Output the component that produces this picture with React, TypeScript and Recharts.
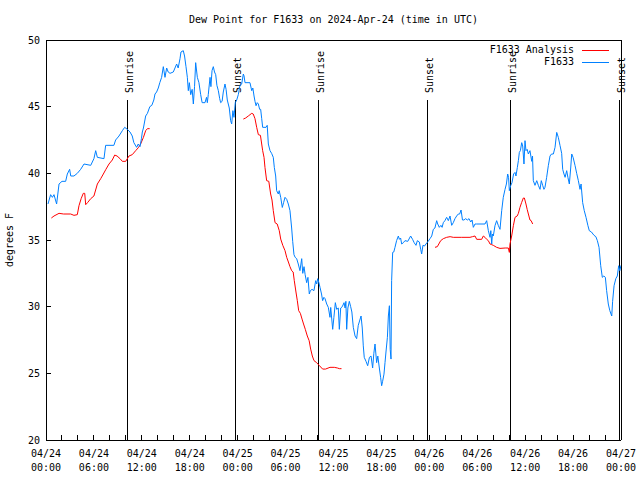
import React from 'react';
import { LineChart, Line, XAxis, YAxis, ReferenceLine } from 'recharts';

const FONT = '"DejaVu Sans Mono", monospace';
const BLUE = '#0080ff';
const RED = '#ff0000';

// x = hours after 04/24 00:00 UTC, y = dew point (F)
const f1633: [number, number][] = [
  [0.25, 37.7], [0.58, 38.4], [0.8, 38.2], [1.0, 38.4], [1.33, 37.7], [1.63, 39.2], [2.0, 39.4],
  [2.46, 39.4], [2.67, 39.95], [2.96, 40.3], [3.1, 39.8], [3.5, 39.8], [3.92, 40.0], [4.34, 40.3],
  [4.76, 40.7], [5.6, 40.6], [6.0, 41.1], [6.22, 41.7], [6.43, 41.2], [7.26, 41.1], [7.47, 42.1],
  [8.5, 42.1], [8.72, 42.5], [9.14, 42.8], [9.56, 43.2], [9.85, 43.45], [10.18, 43.3], [10.52, 43.1],
  [10.8, 42.8], [11.0, 42.3], [11.35, 41.95], [11.55, 42.2], [11.77, 42.0], [11.95, 42.6], [12.06, 43.1],
  [12.2, 43.4], [12.48, 44.3], [12.7, 44.5], [13.0, 45.0], [13.25, 45.1], [13.5, 45.5], [13.65, 45.95],
  [13.85, 46.1], [14.06, 46.4], [14.25, 46.8], [14.48, 47.2], [14.69, 48.0], [14.9, 47.2], [15.11, 47.9],
  [15.3, 47.6], [15.53, 47.5], [15.94, 47.6], [16.15, 47.9], [16.36, 48.2], [16.55, 47.9], [16.78, 48.6],
  [16.9, 49.1], [17.19, 49.2], [17.35, 48.8], [17.53, 48.0], [17.7, 47.2], [17.82, 46.2], [17.95, 46.8],
  [18.12, 45.9], [18.3, 46.3], [18.45, 45.2], [18.6, 46.5], [18.74, 48.3], [18.95, 47.2], [19.15, 46.8],
  [19.37, 45.9], [19.55, 45.3], [19.91, 45.3], [20.1, 45.7], [20.2, 45.3], [20.32, 45.9], [20.54, 47.2],
  [20.65, 46.5], [20.79, 47.7], [20.95, 48.0], [21.1, 47.6], [21.25, 47.4], [21.4, 46.6], [21.58, 46.2],
  [21.75, 45.6], [21.87, 45.3], [22.05, 45.4], [22.2, 46.1], [22.41, 46.7], [22.55, 46.3], [22.7, 45.5],
  [22.95, 44.9], [23.12, 43.95], [23.25, 43.7], [23.4, 44.7], [23.54, 44.2], [23.7, 45.3], [23.88, 45.5],
  [24.08, 45.9], [24.29, 46.6], [24.5, 46.7], [24.71, 47.45], [24.8, 47.3], [24.92, 46.8], [25.54, 46.8],
  [25.76, 46.2], [25.9, 46.4], [26.05, 45.8], [26.17, 45.4], [26.3, 45.07], [26.45, 45.3], [26.59, 45.2],
  [26.75, 44.8], [26.88, 44.8], [27.01, 44.1], [27.13, 43.45], [27.55, 43.45], [27.7, 43.6], [27.84, 42.2],
  [28.05, 41.7], [28.25, 41.5], [28.46, 41.2], [28.59, 40.44], [28.76, 39.8], [28.88, 38.7], [29.09, 38.45],
  [29.2, 38.7], [29.39, 38.2], [29.59, 37.44], [29.75, 37.8], [29.93, 38.2], [30.14, 38.05], [30.34, 37.7],
  [30.55, 37.2], [30.76, 35.9], [30.89, 34.9], [31.05, 33.9], [31.2, 33.7], [31.39, 33.6], [31.59, 33.2],
  [31.8, 32.7], [32.02, 33.6], [32.15, 32.5], [32.31, 33.0], [32.45, 32.4], [32.64, 31.8], [32.8, 32.2],
  [32.97, 30.95], [33.1, 31.2], [33.31, 31.3], [33.55, 31.2], [33.77, 31.95], [33.9, 31.7], [34.02, 32.1],
  [34.15, 31.85], [34.31, 31.45], [34.5, 30.95], [34.64, 30.45], [34.8, 30.7], [34.94, 30.6], [35.15, 30.2],
  [35.35, 29.95], [35.56, 29.2], [35.65, 29.94], [35.9, 28.3], [36.05, 29.2], [36.23, 30.3], [36.4, 29.8],
  [36.6, 29.9], [36.73, 28.3], [36.9, 29.9], [37.1, 30.0], [37.32, 30.3], [37.45, 29.9], [37.55, 30.4],
  [37.65, 28.3], [37.8, 29.9], [37.98, 30.4], [38.15, 30.0], [38.3, 29.6], [38.48, 28.45], [38.7, 27.8],
  [38.9, 27.6], [39.1, 28.6], [39.3, 29.0], [39.45, 29.3], [39.6, 28.4], [39.73, 27.06], [39.85, 26.2],
  [40.07, 25.9], [40.28, 25.57], [40.5, 26.2], [40.7, 26.3], [40.9, 25.4], [41.05, 26.5], [41.2, 27.2],
  [41.4, 25.8], [41.55, 26.3], [41.74, 25.4], [41.9, 24.7], [42.03, 24.07], [42.15, 24.4], [42.32, 24.94],
  [42.45, 25.8], [42.57, 26.6], [42.75, 27.7], [42.87, 29.3], [43.0, 30.07], [43.1, 26.8], [43.2, 26.07],
  [43.28, 31.95], [43.41, 34.07], [43.55, 34.1], [43.7, 34.45], [43.9, 34.95], [44.12, 35.3], [44.25, 35.05],
  [44.4, 35.15], [44.54, 34.7], [44.75, 34.8], [44.95, 34.95], [45.3, 34.9], [45.66, 35.3], [45.9, 35.05],
  [46.1, 34.8], [46.33, 34.6], [46.5, 34.95], [46.75, 34.85], [46.92, 34.3], [47.04, 33.95], [47.2, 34.6],
  [47.4, 34.55], [47.58, 34.7], [47.85, 34.9], [48.08, 35.1], [48.3, 35.3], [48.5, 35.8], [48.7, 35.9],
  [48.92, 36.45], [49.05, 36.2], [49.25, 35.95], [49.45, 36.1], [49.6, 35.95], [49.75, 36.3], [49.95, 36.45],
  [50.17, 36.7], [50.38, 36.45], [50.59, 36.8], [50.8, 36.1], [51.0, 36.3], [51.21, 36.6], [51.42, 36.8],
  [51.63, 36.95], [51.8, 36.95], [51.97, 37.25], [52.15, 36.5], [52.34, 36.5], [52.55, 36.6], [52.76, 36.5],
  [52.97, 36.6], [53.18, 36.35], [53.35, 36.5], [53.51, 35.95], [53.72, 36.2], [53.93, 36.2], [54.97, 36.2],
  [55.18, 36.45], [55.39, 35.7], [55.6, 35.2], [55.7, 35.7], [55.81, 34.7], [55.9, 35.45], [56.01, 35.3],
  [56.22, 36.07], [56.43, 36.45], [56.63, 36.1], [56.85, 35.8], [57.06, 37.2], [57.26, 38.2], [57.48, 38.8],
  [57.65, 39.2], [57.81, 39.95], [57.92, 39.7], [58.02, 38.7], [58.2, 39.1], [58.35, 39.3], [58.55, 39.95],
  [58.73, 40.07], [58.85, 39.8], [59.02, 40.44], [59.15, 40.95], [59.27, 41.57], [59.4, 41.7], [59.57, 42.3],
  [59.69, 42.05], [59.85, 40.7], [59.98, 42.45], [60.1, 41.7], [60.25, 41.8], [60.4, 41.45], [60.6, 41.7],
  [60.82, 40.9], [60.92, 41.3], [61.02, 39.45], [61.23, 39.1], [61.45, 39.45], [61.65, 39.1], [61.86, 38.8],
  [62.02, 39.45], [62.19, 39.1], [62.35, 38.8], [62.48, 38.95], [62.69, 39.7], [62.9, 40.57], [63.11, 41.3],
  [63.3, 41.45], [63.53, 41.45], [63.74, 41.95], [63.95, 43.07], [64.15, 42.7], [64.36, 42.1], [64.57, 41.5],
  [64.7, 40.3], [64.86, 39.95], [65.0, 39.7], [65.2, 40.2], [65.35, 39.7], [65.53, 39.2], [65.7, 40.4],
  [65.83, 41.45], [66.0, 41.2], [66.24, 40.6], [66.45, 40.0], [66.66, 39.45], [66.87, 38.8], [67.0, 39.2],
  [67.2, 37.8], [67.4, 37.2], [67.62, 36.7], [67.85, 36.1], [68.03, 35.7], [68.3, 35.6], [68.62, 35.35],
  [68.85, 35.25], [69.04, 34.95], [69.25, 34.45], [69.46, 33.07], [69.66, 32.2], [69.85, 32.3], [70.04, 32.2],
  [70.2, 31.2], [70.41, 30.2], [70.6, 29.7], [70.84, 29.3], [70.95, 30.4], [71.13, 31.57], [71.35, 32.1],
  [71.54, 32.3], [71.71, 33.07], [71.85, 32.7], [72.0, 33.1],
];

const analysisDay1: [number, number][] = [
  [0.67, 36.65], [1.0, 36.8], [1.63, 37.0], [2.2, 36.95], [3.09, 36.95], [3.5, 36.85], [3.92, 36.9],
  [4.13, 37.57], [4.4, 38.1], [4.67, 38.5], [4.85, 38.5], [4.97, 37.65], [5.2, 37.8], [5.6, 38.1],
  [6.0, 38.3], [6.43, 39.2], [6.85, 39.6], [7.18, 39.95], [7.5, 40.3], [7.89, 40.7], [8.3, 41.0],
  [8.6, 41.37], [8.9, 41.3], [9.27, 41.1], [9.56, 40.9], [9.98, 40.9], [10.39, 41.3], [10.8, 41.4],
  [11.23, 41.7], [11.6, 41.95], [11.85, 42.2], [12.2, 42.7], [12.48, 43.2], [12.7, 43.35], [12.98, 43.35],
];

const analysisDay2: [number, number][] = [
  [24.71, 44.07], [25.0, 44.15], [25.33, 44.3], [25.76, 44.5], [25.95, 44.45], [26.17, 44.1], [26.38, 43.45],
  [26.59, 42.9], [26.85, 42.85], [27.13, 41.7], [27.3, 41.2], [27.42, 40.44], [27.63, 39.45], [27.9, 39.4],
  [28.13, 38.45], [28.3, 38.0], [28.46, 37.2], [28.68, 36.3], [28.95, 36.2], [29.21, 35.7], [29.39, 35.07],
  [29.65, 34.6], [29.93, 34.2], [30.14, 33.7], [30.35, 33.35], [30.55, 33.0], [30.76, 32.7], [30.95, 32.6],
  [31.09, 31.95], [31.3, 31.1], [31.47, 30.45], [31.64, 29.7], [31.85, 29.5], [32.06, 29.07], [32.25, 28.7],
  [32.47, 28.3], [32.72, 27.8], [32.95, 27.45], [33.14, 26.82], [33.35, 26.3], [33.56, 25.95], [33.89, 25.8],
  [34.2, 25.6], [34.64, 25.32], [35.0, 25.32], [35.56, 25.45], [36.1, 25.45], [36.5, 25.4], [36.73, 25.35],
  [37.0, 25.35],
];

const analysisDay3: [number, number][] = [
  [48.71, 34.45], [49.0, 34.5], [49.42, 34.95], [49.75, 35.1], [50.17, 35.2], [50.6, 35.25], [51.0, 35.2],
  [52.0, 35.2], [53.09, 35.2], [53.4, 35.25], [53.72, 35.3], [53.93, 35.05], [54.55, 35.05], [54.76, 35.3],
  [54.97, 35.2], [55.18, 35.05], [55.39, 34.95], [55.6, 34.7], [55.81, 34.65], [56.01, 34.6], [56.43, 34.45],
  [56.85, 34.37], [57.5, 34.4], [57.89, 34.4], [58.02, 34.07], [58.1, 34.7], [58.31, 35.3], [58.52, 36.07],
  [58.73, 36.7], [59.0, 36.8], [59.15, 37.0], [59.35, 37.45], [59.55, 37.8], [59.77, 38.15], [59.9, 38.15],
  [60.1, 37.7], [60.25, 37.3], [60.4, 36.95], [60.6, 36.5], [60.75, 36.45], [60.94, 36.2],
];

const sunHours = [10.18, 23.75, 34.1, 47.75, 58.15, 71.75];
const sunNames = ['Sunrise', 'Sunset', 'Sunrise', 'Sunset', 'Sunrise', 'Sunset'];
const sunLineTop = 45.5;

const dayLabels = ['04/24', '04/25', '04/26', '04/27'];
const xTicks = [0, 2, 4, 6, 8, 10, 12, 14, 16, 18, 20, 22, 24, 26, 28, 30, 32, 34, 36, 38, 40, 42, 44, 46, 48, 50, 52, 54, 56, 58, 60, 62, 64, 66, 68, 70, 72];
const yTicks = [20, 25, 30, 35, 40, 45, 50];

const toPoints = (arr: [number, number][]) => arr.map(([h, v]) => ({ h, v: v as number | null }));

const blueData = toPoints(f1633);
// gaps between the analysis runs
const redData = [
  ...toPoints(analysisDay1),
  { h: 18, v: null },
  ...toPoints(analysisDay2),
  { h: 43, v: null },
  ...toPoints(analysisDay3),
];

const pad = (n: number) => (n < 10 ? '0' + n : '' + n);
const axisStyle = { stroke: '#000', shapeRendering: 'crispEdges' } as any;

function BottomTick(props: any) {
  const { x, y, payload } = props;
  const h = payload.value as number;
  return (
    <g>
      <line x1={x} y1={y} x2={x} y2={y - 5} stroke="#000" shapeRendering="crispEdges" />
      {h % 6 === 0 && (
        <text textAnchor="middle" fontFamily={FONT} fontSize={10} fill="#000">
          <tspan x={x} y={y + 17}>{dayLabels[Math.floor(h / 24)]}</tspan>
          <tspan x={x} y={y + 31}>{pad(h % 24)}:00</tspan>
        </text>
      )}
    </g>
  );
}

function TopTick(props: any) {
  const { x, y } = props;
  return <line x1={x} y1={y} x2={x} y2={y + 5} stroke="#000" shapeRendering="crispEdges" />;
}

function LeftTick(props: any) {
  const { x, y, payload } = props;
  return (
    <g>
      <line x1={x} y1={y} x2={x + 5} y2={y} stroke="#000" shapeRendering="crispEdges" />
      <text x={x - 6} y={y + 3.5} textAnchor="end" fontFamily={FONT} fontSize={10} fill="#000">
        {payload.value}
      </text>
    </g>
  );
}

function RightTick(props: any) {
  const { x, y } = props;
  return <line x1={x} y1={y} x2={x - 5} y2={y} stroke="#000" shapeRendering="crispEdges" />;
}

function SunLabel({ viewBox, text }: { viewBox?: any; text: string }) {
  if (!viewBox) return null;
  const x = viewBox.x + 5.5;
  const y = viewBox.y - 7;
  return (
    <text x={x} y={y} transform={`rotate(-90 ${x} ${y})`} fontFamily={FONT} fontSize={10} fill="#000">
      {text}
    </text>
  );
}

export default function App() {
  return (
    <div style={{ position: 'absolute', left: 0, top: 0, width: 640, height: 480, background: '#fff' }}>
      <div
        style={{
          position: 'absolute', left: 0, width: 667, top: 14, textAlign: 'center',
          fontFamily: FONT, fontSize: 10, lineHeight: '12px', whiteSpace: 'pre',
        }}
      >
        Dew Point for F1633 on 2024-Apr-24 (time in UTC)
      </div>
      <div
        style={{
          position: 'absolute', left: 10, top: 240, transform: 'translate(-50%, -50%) rotate(-90deg)',
          fontFamily: FONT, fontSize: 10, lineHeight: '12px', whiteSpace: 'pre',
        }}
      >
        degrees F
      </div>
      <LineChart width={640} height={480} margin={{ top: 30, right: 0, bottom: 0, left: 0 }}>
        <XAxis
          xAxisId="bottom"
          dataKey="h"
          type="number"
          domain={[0, 72]}
          ticks={xTicks}
          interval={0}
          height={40}
          tickSize={0}
          tickMargin={0}
          tickLine={false}
          axisLine={axisStyle}
          tick={<BottomTick />}
        />
        <XAxis
          xAxisId="top"
          orientation="top"
          type="number"
          domain={[0, 72]}
          ticks={xTicks}
          interval={0}
          height={10}
          tickSize={0}
          tickMargin={0}
          tickLine={false}
          axisLine={axisStyle}
          tick={<TopTick />}
        />
        <YAxis
          yAxisId="left"
          type="number"
          domain={[20, 50]}
          ticks={yTicks}
          interval={0}
          width={46}
          tickSize={0}
          tickMargin={0}
          tickLine={false}
          axisLine={axisStyle}
          tick={<LeftTick />}
        />
        <YAxis
          yAxisId="right"
          orientation="right"
          type="number"
          domain={[20, 50]}
          ticks={yTicks}
          interval={0}
          width={19}
          tickSize={0}
          tickMargin={0}
          tickLine={false}
          axisLine={axisStyle}
          tick={<RightTick />}
        />
        {sunHours.map((h, i) => (
          <ReferenceLine
            key={i}
            xAxisId="bottom"
            yAxisId="left"
            segment={[{ x: h, y: 20 }, { x: h, y: sunLineTop }]}
            stroke="#000"
            strokeWidth={1}
            shapeRendering="crispEdges"
            label={(p: any) => <SunLabel viewBox={p.viewBox} text={sunNames[i]} />}
          />
        ))}
        <Line
          xAxisId="bottom"
          yAxisId="left"
          data={redData}
          dataKey="v"
          name="F1633 Analysis"
          stroke={RED}
          strokeWidth={1}
          dot={false}
          activeDot={false}
          isAnimationActive={false}
        />
        <Line
          xAxisId="bottom"
          yAxisId="left"
          data={blueData}
          dataKey="v"
          name="F1633"
          stroke={BLUE}
          strokeWidth={1}
          dot={false}
          activeDot={false}
          isAnimationActive={false}
        />
      </LineChart>
      {[
        { name: 'F1633 Analysis', color: RED, top: 44 },
        { name: 'F1633', color: BLUE, top: 56 },
      ].map((it) => (
        <div key={it.name} style={{ position: 'absolute', top: it.top, left: 0, width: 640, height: 12 }}>
          <span
            style={{
              position: 'absolute', right: 640 - 574, top: 0, fontFamily: FONT, fontSize: 10,
              lineHeight: '12px', whiteSpace: 'pre',
            }}
          >
            {it.name}
          </span>
          <span
            style={{ position: 'absolute', left: 582, width: 27, top: 6, height: 0, borderTop: `1px solid ${it.color}` }}
          />
        </div>
      ))}
    </div>
  );
}
